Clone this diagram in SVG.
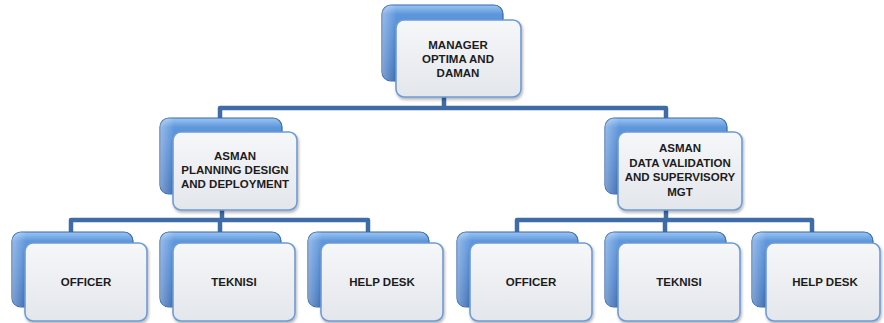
<svg xmlns="http://www.w3.org/2000/svg" width="884" height="323" viewBox="0 0 884 323">
<defs>
<linearGradient id="gBack" x1="0" y1="0" x2="0" y2="1">
<stop offset="0" stop-color="#9cc6f2"/>
<stop offset="0.12" stop-color="#5f97dc"/>
<stop offset="0.6" stop-color="#4a82cc"/>
<stop offset="1" stop-color="#3a6db5"/>
</linearGradient>
<linearGradient id="gBackSide" x1="0" y1="0" x2="1" y2="0">
<stop offset="0" stop-color="#ffffff" stop-opacity="0.35"/>
<stop offset="0.12" stop-color="#ffffff" stop-opacity="0"/>
</linearGradient>
<linearGradient id="gFront" x1="0" y1="0" x2="0" y2="1">
<stop offset="0" stop-color="#f6f7f9"/>
<stop offset="1" stop-color="#e3e6eb"/>
</linearGradient>
<filter id="sh" x="-10%" y="-10%" width="130%" height="130%">
<feGaussianBlur in="SourceAlpha" stdDeviation="1.5"/>
<feOffset dx="1" dy="2" result="b"/>
<feComponentTransfer><feFuncA type="linear" slope="0.3"/></feComponentTransfer>
<feMerge><feMergeNode/><feMergeNode in="SourceGraphic"/></feMerge>
</filter>
</defs>
<style>
.back{fill:url(#gBack);stroke:#3567ad;stroke-width:1.2}
.side{fill:url(#gBackSide)}
.front{fill:url(#gFront);stroke:#6d9bd6;stroke-width:1.6;filter:url(#sh)}
.conn{fill:none;stroke:#3f6ca6;stroke-width:4.5;stroke-linejoin:round}
text{font-family:"Liberation Sans",Arial,sans-serif;font-weight:bold;font-size:11.5px;fill:#1c1c1c;text-anchor:middle}
</style>
<g id="connectors">
<path class="conn" d="M444,97 V108 M220,118 V108 H666 V118"/>
<path class="conn" d="M222,210 V220 M71,232 V220 H368 V232 M220,220 V232"/>
<path class="conn" d="M666,210 V220 M517,232 V220 H812 V232 M665,220 V232"/>
</g>
<g id="manager">
<rect class="back" x="382" y="5" width="121" height="76" rx="9"/>
<rect class="side" x="382" y="5" width="121" height="76" rx="9"/>
<rect class="front" x="396" y="20" width="125" height="77" rx="8"/>
<text x="458" y="49">MANAGER</text>
<text x="458" y="63">OPTIMA AND</text>
<text x="458" y="77">DAMAN</text>
</g>
<g id="asman-left">
<rect class="back" x="160" y="118" width="122" height="76" rx="9"/>
<rect class="side" x="160" y="118" width="122" height="76" rx="9"/>
<rect class="front" x="173" y="132" width="124" height="78" rx="8"/>
<text x="235" y="159.5">ASMAN</text>
<text x="235" y="173.5">PLANNING DESIGN</text>
<text x="235" y="187.5">AND DEPLOYMENT</text>
</g>
<g id="asman-right">
<rect class="back" x="605" y="118" width="122" height="76" rx="9"/>
<rect class="side" x="605" y="118" width="122" height="76" rx="9"/>
<rect class="front" x="618" y="132" width="124" height="78" rx="8"/>
<text x="680" y="152">ASMAN</text>
<text x="680" y="166.5">DATA VALIDATION</text>
<text x="680" y="181">AND SUPERVISORY</text>
<text x="680" y="195.5">MGT</text>
</g>
<g id="officer-left">
<rect class="back" x="12" y="232" width="121" height="75" rx="9"/>
<rect class="side" x="12" y="232" width="121" height="75" rx="9"/>
<rect class="front" x="25" y="243" width="122" height="78" rx="8"/>
<text x="86" y="286">OFFICER</text>
</g>
<g id="teknisi-left">
<rect class="back" x="160" y="232" width="121" height="75" rx="9"/>
<rect class="side" x="160" y="232" width="121" height="75" rx="9"/>
<rect class="front" x="173" y="243" width="122" height="78" rx="8"/>
<text x="234" y="286">TEKNISI</text>
</g>
<g id="helpdesk-left">
<rect class="back" x="308" y="232" width="121" height="75" rx="9"/>
<rect class="side" x="308" y="232" width="121" height="75" rx="9"/>
<rect class="front" x="321" y="243" width="122" height="78" rx="8"/>
<text x="382" y="286">HELP DESK</text>
</g>
<g id="officer-right">
<rect class="back" x="457" y="232" width="121" height="75" rx="9"/>
<rect class="side" x="457" y="232" width="121" height="75" rx="9"/>
<rect class="front" x="470" y="243" width="122" height="78" rx="8"/>
<text x="531" y="286">OFFICER</text>
</g>
<g id="teknisi-right">
<rect class="back" x="605" y="232" width="121" height="75" rx="9"/>
<rect class="side" x="605" y="232" width="121" height="75" rx="9"/>
<rect class="front" x="618" y="243" width="122" height="78" rx="8"/>
<text x="679" y="286">TEKNISI</text>
</g>
<g id="helpdesk-right">
<rect class="back" x="752" y="232" width="121" height="75" rx="9"/>
<rect class="side" x="752" y="232" width="121" height="75" rx="9"/>
<rect class="front" x="766" y="243" width="114" height="78" rx="8"/>
<text x="825" y="286">HELP DESK</text>
</g>
</svg>
